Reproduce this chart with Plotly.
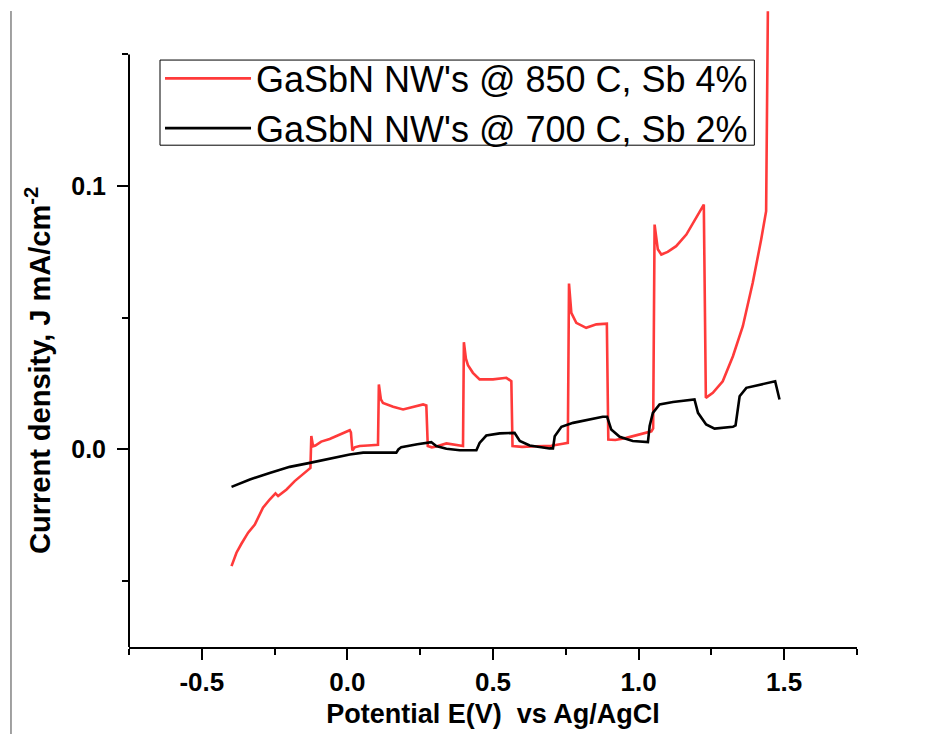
import plotly.graph_objects as go

# GaSbN NW's @ 850 C, Sb 4% -- chopped-light linear sweep
red_x = [-0.398, -0.381, -0.364, -0.341, -0.318, -0.290, -0.267, -0.247, -0.238, -0.209,
         -0.181, -0.152, -0.132, -0.127, -0.124, -0.118, -0.110, -0.090, -0.061, -0.026,
         0.008, 0.012, 0.017, 0.025, 0.042, 0.070, 0.100, 0.105, 0.108, 0.115,
         0.122, 0.157, 0.191, 0.225, 0.260, 0.271, 0.276, 0.290, 0.305, 0.340,
         0.386, 0.397, 0.400, 0.407, 0.414, 0.431, 0.454, 0.500, 0.546, 0.563,
         0.567, 0.600, 0.650, 0.700, 0.740, 0.757, 0.761, 0.769, 0.786, 0.820,
         0.855, 0.891, 0.896, 0.920, 0.958, 1.003, 1.044, 1.050, 1.055, 1.066,
         1.078, 1.100, 1.129, 1.164, 1.198, 1.224, 1.231, 1.255, 1.289, 1.324,
         1.358, 1.392, 1.421, 1.438, 1.444]
red_y = [-0.0443, -0.0392, -0.0358, -0.0316, -0.0285, -0.0221, -0.0190, -0.0167, -0.0177, -0.0152,
         -0.0120, -0.0092, -0.0073, -0.0070, 0.0051, 0.0012, 0.0015, 0.0030, 0.0040, 0.0057,
         0.0073, 0.0065, -0.0004, 0.0008, 0.0013, 0.0015, 0.0019, 0.0018, 0.0247, 0.0190,
         0.0177, 0.0162, 0.0152, 0.0162, 0.0171, 0.0167, 0.0013, 0.0008, 0.0011, 0.0023,
         0.0015, 0.0013, 0.0407, 0.0345, 0.0320, 0.0291, 0.0266, 0.0266, 0.0272, 0.0259,
         0.0013, 0.0010, 0.0012, 0.0014, 0.0022, 0.0025, 0.0630, 0.0519, 0.0481, 0.0462,
         0.0475, 0.0478, 0.0038, 0.0036, 0.0044, 0.0057, 0.0069, 0.0080, 0.0854, 0.0760,
         0.0740, 0.0750, 0.0772, 0.0816, 0.0880, 0.0930, 0.0196, 0.0215, 0.0259, 0.0354,
         0.0468, 0.0633, 0.0797, 0.0905, 0.1664]

# GaSbN NW's @ 700 C, Sb 2%
black_x = [-0.398, -0.335, -0.267, -0.198, -0.129, -0.061, 0.008, 0.054, 0.111, 0.168,
           0.175, 0.185, 0.240, 0.288, 0.305, 0.340, 0.386, 0.443, 0.454, 0.477,
           0.523, 0.574, 0.592, 0.626, 0.694, 0.706, 0.712, 0.735, 0.775, 0.820,
           0.877, 0.892, 0.906, 0.935, 0.980, 1.032, 1.038, 1.049, 1.072, 1.118,
           1.192, 1.204, 1.232, 1.261, 1.324, 1.333, 1.347, 1.370, 1.404, 1.469,
           1.484]
black_y = [-0.0142, -0.0114, -0.0089, -0.0066, -0.0051, -0.0035, -0.0019, -0.0012, -0.0012, -0.0012,
           0.0000, 0.0009, 0.0020, 0.0028, 0.0013, 0.0003, -0.0003, -0.0003, 0.0025, 0.0053,
           0.0061, 0.0063, 0.0032, 0.0015, 0.0004, 0.0004, 0.0050, 0.0086, 0.0101, 0.0111,
           0.0124, 0.0124, 0.0076, 0.0048, 0.0032, 0.0028, 0.0089, 0.0139, 0.0171, 0.0180,
           0.0190, 0.0139, 0.0095, 0.0079, 0.0086, 0.0091, 0.0202, 0.0234, 0.0243, 0.0259,
           0.0190]

series_names = ["GaSbN NW's @ 850 C, Sb 4%", "GaSbN NW's @ 700 C, Sb 2%"]
x_ticks = [-0.5, 0.0, 0.5, 1.0, 1.5]
x_tick_text = ["-0.5", "0.0", "0.5", "1.0", "1.5"]
y_ticks = [0.0, 0.1]
y_tick_text = ["0.0", "0.1"]

X_RANGE = [-0.7501, 1.7501]
Y_AXIS_LOW, Y_AXIS_HIGH = -0.075, 0.15   # drawn extent of the left axis
Y_VIEW_HIGH = 0.1699                     # the sweep runs above the axis top

FONT = "Liberation Sans, Arial, sans-serif"

fig = go.Figure()
fig.add_trace(go.Scatter(x=red_x, y=red_y, mode="lines", name=series_names[0],
                         line=dict(color="#ff3a3a", width=2.6)))
fig.add_trace(go.Scatter(x=black_x, y=black_y, mode="lines", name=series_names[1],
                         line=dict(color="#000000", width=2.6)))

fig.update_layout(
    width=928, height=734,
    margin=dict(l=129, r=71, t=2, b=87),
    paper_bgcolor="white", plot_bgcolor="white",
    font=dict(family=FONT, color="black"),
    showlegend=True,
    legend=dict(
        x=0.0426, y=0.928, xanchor="left", yanchor="top",
        bgcolor="rgba(0,0,0,0)", borderwidth=0,
        font=dict(family=FONT, size=36, color="black"),
        itemwidth=86, tracegroupgap=0,
    ),
    xaxis=dict(
        range=X_RANGE, showgrid=False, zeroline=False,
        showline=True, linecolor="black", linewidth=2,
        ticks="outside", ticklen=11, tickwidth=2, tickcolor="black",
        tickvals=x_ticks, ticktext=x_tick_text,
        tickfont=dict(family=FONT, size=26, color="black", weight="bold"),
        minor=dict(dtick=0.25, tick0=0, ticks="outside", ticklen=6,
                   tickwidth=2, tickcolor="black"),
        title=dict(text="<b>Potential E(V)  vs Ag/AgCl</b>",
                   font=dict(family=FONT, size=27, color="black"), standoff=8),
    ),
    yaxis=dict(
        range=[Y_AXIS_LOW, Y_VIEW_HIGH], showgrid=False, zeroline=False,
        showline=False,
        ticks="outside", ticklen=11, tickwidth=2, tickcolor="black",
        tickvals=y_ticks, ticktext=y_tick_text, ticklabelstandoff=6,
        tickfont=dict(family=FONT, size=25, color="black", weight="bold"),
        minor=dict(dtick=0.05, tick0=0, ticks="outside", ticklen=6,
                   tickwidth=2, tickcolor="black"),
    ),
    annotations=[
        dict(text="<b>Current density, J mA/cm<sup>-2</sup></b>",
             xref="paper", yref="paper", x=-0.125, y=0.428,
             xanchor="center", yanchor="middle", textangle=-90, showarrow=False,
             font=dict(family=FONT, size=29, color="black")),
    ],
    shapes=[
        # left axis line, stopping at the top of the labelled range
        dict(type="line", xref="paper", yref="y", x0=0, x1=0,
             y0=Y_AXIS_LOW, y1=Y_AXIS_HIGH, line=dict(color="black", width=2)),
        # legend frame
        dict(type="rect", xref="paper", yref="paper",
             x0=0.0426, x1=0.859, y0=0.778, y1=0.910,
             line=dict(color="black", width=1), fillcolor="white", layer="below"),
        # thin frame rule at the left edge of the page
        dict(type="line", xref="paper", yref="paper", x0=-0.1621, x1=-0.1621,
             y0=-0.135, y1=0.986, line=dict(color="#444444", width=1)),
    ],
)

fig.write_html("out.html")
